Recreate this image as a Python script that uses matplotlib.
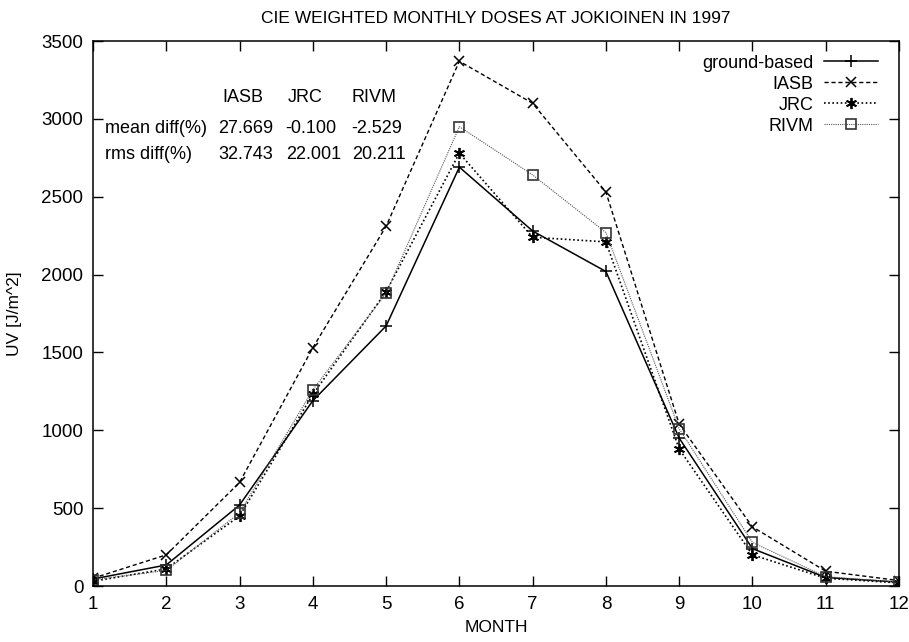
import matplotlib.pyplot as plt

plt.rcParams['font.family'] = ['Liberation Sans', 'DejaVu Sans']

months = [1, 2, 3, 4, 5, 6, 7, 8, 9, 10, 11, 12]
ground_based = [45, 135, 520, 1190, 1670, 2690, 2280, 2020, 950, 240, 55, 25]
iasb = [50, 200, 665, 1530, 2310, 3370, 3100, 2530, 1040, 380, 95, 35]
jrc = [30, 110, 450, 1230, 1890, 2780, 2240, 2210, 880, 200, 50, 20]
rivm = [40, 100, 470, 1260, 1880, 2950, 2640, 2270, 1010, 280, 60, 25]

stat_columns = ['IASB', 'JRC', 'RIVM']
mean_diff = ['27.669', '-0.100', '-2.529']
rms_diff = ['32.743', '22.001', '20.211']

fig = plt.figure(figsize=(9.09, 6.42), dpi=100)
ax = fig.add_axes([0.1023, 0.0872, 0.8867, 0.8489])

ax.plot(months, ground_based, color='black', linestyle='-', linewidth=1.1,
        marker='+', markersize=8, markeredgewidth=1.1, label='ground-based')
ax.plot(months, iasb, color='black', linestyle=(0, (3, 2)), linewidth=1.0,
        marker='x', markersize=7, markeredgewidth=1.1, label='IASB')
ax.plot(months, jrc, color='black', linestyle=(0, (1, 1.5)), linewidth=1.2,
        marker=(6, 2, 0), markersize=8, markeredgewidth=1.3, label='JRC')
ax.plot(months, rivm, color='#555555', linestyle=(0, (1, 1)), linewidth=0.8,
        marker='s', markersize=7, markerfacecolor='none', markeredgecolor='#333333',
        markeredgewidth=1.2, label='RIVM')

ax.set_xlim(1, 12)
ax.set_ylim(0, 3500)
ax.set_xticks(months)
ax.set_yticks(range(0, 3501, 500))
ax.tick_params(direction='in', top=True, right=True, length=7, width=1,
               labelsize=13.5, pad=7)
for spine in ax.spines.values():
    spine.set_linewidth(1.1)

ax.set_xlabel('MONTH', fontsize=12.5, labelpad=5)
ax.set_ylabel('UV [J/m^2]', fontsize=12.5, labelpad=14)
ax.set_title('CIE WEIGHTED MONTHLY DOSES AT JOKIOINEN IN 1997', fontsize=12.5, pad=13)

# statistics table
col_x = [0.160, 0.242, 0.321]
val_x = [0.155, 0.239, 0.321]
fs = 13
for x, name in zip(col_x, stat_columns):
    ax.text(x, 0.897, name, transform=ax.transAxes, fontsize=fs, va='center')
ax.text(0.0149, 0.840, 'mean diff(%)', transform=ax.transAxes, fontsize=fs, va='center')
ax.text(0.0149, 0.791, 'rms diff(%)', transform=ax.transAxes, fontsize=fs, va='center')
for x, m, r in zip(val_x, mean_diff, rms_diff):
    ax.text(x, 0.840, m, transform=ax.transAxes, fontsize=fs, va='center')
    ax.text(x, 0.791, r, transform=ax.transAxes, fontsize=fs, va='center')

leg = ax.legend(loc='upper right', bbox_to_anchor=(0.99, 0.998), frameon=False,
                markerfirst=False, fontsize=13, handlelength=3.0,
                labelspacing=0.22, handletextpad=0.6, borderaxespad=0.3)
for t in leg.get_texts():
    t.set_ha('right')
leg._legend_box.align = 'right'

fig.savefig('out.png', dpi=100)
